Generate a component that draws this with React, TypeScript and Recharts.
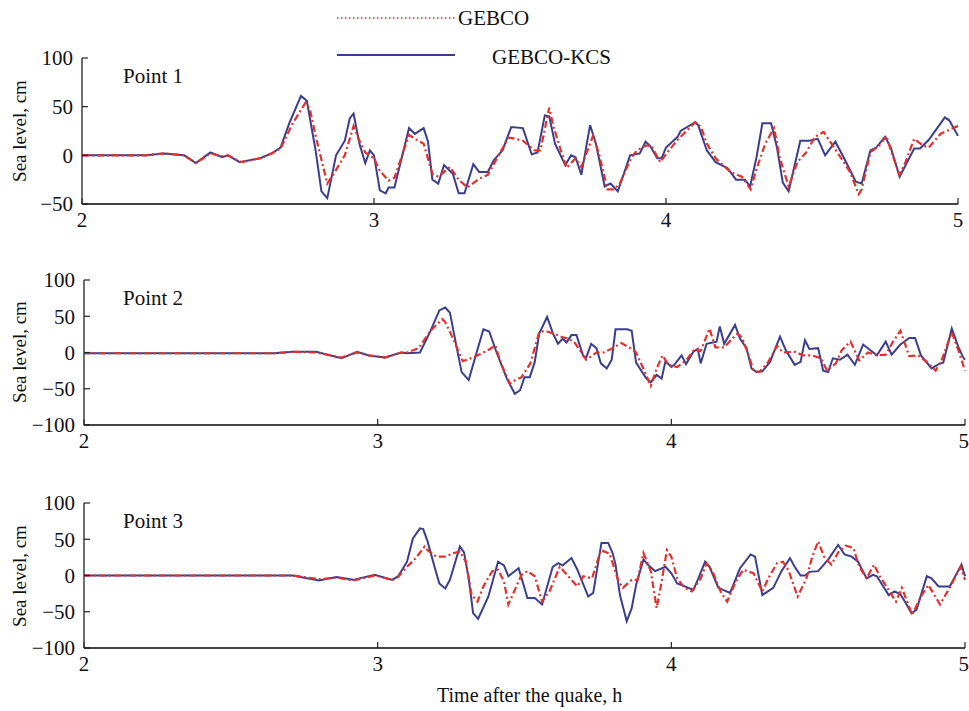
import { LineChart, Line, XAxis, YAxis } from "recharts"

const FONT = '"Liberation Serif", "Times New Roman", serif'
const RED = "#e3302b"
const BLUE = "#3b3e8e"

const X_TICKS = [2, 3, 4, 5]
const Y_TICKS_1 = [-50, 0, 50, 100]
const Y_TICKS_23 = [-100, -50, 0, 50, 100]

// Point 1
const P1_KCS_T = [2.0, 2.22, 2.28, 2.35, 2.39, 2.44, 2.48, 2.5, 2.54, 2.61, 2.65, 2.68, 2.71, 2.75, 2.77, 2.8, 2.82, 2.84, 2.87, 2.9, 2.917, 2.93, 2.95, 2.97, 2.986, 3.0, 3.02, 3.04, 3.05, 3.07, 3.12, 3.14, 3.17, 3.185, 3.2, 3.22, 3.24, 3.27, 3.29, 3.31, 3.34, 3.36, 3.39, 3.41, 3.44, 3.47, 3.51, 3.54, 3.56, 3.585, 3.6, 3.62, 3.655, 3.675, 3.69, 3.71, 3.74, 3.76, 3.79, 3.81, 3.835, 3.877, 3.91, 3.93, 3.945, 3.97, 3.985, 4.0, 4.04, 4.05, 4.1, 4.11, 4.14, 4.17, 4.21, 4.24, 4.27, 4.288, 4.31, 4.33, 4.36, 4.38, 4.4, 4.42, 4.46, 4.49, 4.52, 4.545, 4.58, 4.61, 4.65, 4.67, 4.7, 4.72, 4.75, 4.77, 4.8, 4.85, 4.87, 4.9, 4.955, 4.97, 5.0]
const P1_KCS_V = [0, 0, 2, 0, -8, 3, -2, 0, -7, -3, 2, 8, 33, 61, 56, 5, -37, -44, 0, 15, 38, 43, 12, -8, 5, 0, -36, -39, -33, -33, 28, 22, 28, 14, -25, -29, -10, -19, -39, -39, -9, -17, -17, -5, 5, 29, 28, 1, 3, 41, 40, 12, -10, 0, -2, -20, 31, 12, -32, -29, -37, 0, 2, 14, 10, -3, -3, 8, 19, 25, 34, 31, 5, -7, -13, -25, -25, -32, -2, 33, 33, 8, -28, -37, 15, 15, 17, 0, 14, -3, -27, -29, 5, 8, 19, 8, -22, 7, 7, 16, 39, 36, 20]
const P1_GEB_T = [2.0, 2.22, 2.28, 2.35, 2.39, 2.44, 2.48, 2.5, 2.545, 2.61, 2.65, 2.68, 2.72, 2.765, 2.78, 2.8, 2.84, 2.87, 2.9, 2.93, 2.95, 2.97, 3.0, 3.02, 3.05, 3.07, 3.12, 3.15, 3.17, 3.2, 3.22, 3.26, 3.29, 3.32, 3.36, 3.39, 3.46, 3.47, 3.51, 3.55, 3.57, 3.6, 3.615, 3.64, 3.66, 3.69, 3.71, 3.75, 3.77, 3.8, 3.82, 3.84, 3.88, 3.9, 3.93, 3.95, 3.98, 4.01, 4.04, 4.07, 4.1, 4.12, 4.14, 4.17, 4.22, 4.26, 4.29, 4.31, 4.34, 4.37, 4.39, 4.42, 4.45, 4.48, 4.51, 4.54, 4.56, 4.6, 4.63, 4.66, 4.67, 4.7, 4.73, 4.755, 4.77, 4.8, 4.82, 4.85, 4.88, 4.9, 4.94, 4.99, 5.0]
const P1_GEB_V = [0, 0, 2, 0, -8, 2, -1, 0, -7, -3, 2, 7, 32, 54, 48, 20, -29, -15, 0, 30, 15, 3, -3, -16, -26, -23, 21, 15, 12, -19, -22, -12, -25, -33, -24, -20, 18, 18, 15, 5, 5, 49, 29, 5, -13, -3, -12, 20, 2, -35, -35, -30, -3, 5, 10, 10, -7, 5, 16, 25, 34, 29, 12, -3, -17, -22, -35, -14, 12, 28, -3, -32, -7, 3, 19, 24, 15, -3, -17, -40, -35, 3, 10, 20, 5, -20, -7, 17, 10, 8, 22, 29, 30]

// Point 2
const P2_KCS_T = [2.0, 2.65, 2.71, 2.79, 2.877, 2.93, 2.97, 3.025, 3.08, 3.1, 3.144, 3.178, 3.21, 3.23, 3.246, 3.27, 3.286, 3.31, 3.337, 3.36, 3.38, 3.405, 3.44, 3.467, 3.485, 3.5, 3.518, 3.535, 3.55, 3.577, 3.597, 3.614, 3.63, 3.643, 3.66, 3.677, 3.7, 3.71, 3.727, 3.745, 3.76, 3.78, 3.797, 3.81, 3.85, 3.865, 3.88, 3.915, 3.93, 3.95, 3.967, 3.98, 4.0, 4.01, 4.035, 4.05, 4.075, 4.09, 4.1, 4.12, 4.154, 4.165, 4.18, 4.217, 4.234, 4.256, 4.273, 4.29, 4.31, 4.336, 4.37, 4.39, 4.42, 4.44, 4.455, 4.47, 4.5, 4.517, 4.534, 4.55, 4.574, 4.6, 4.625, 4.653, 4.7, 4.73, 4.75, 4.78, 4.81, 4.83, 4.85, 4.886, 4.915, 4.926, 4.955, 4.977, 4.994, 5.0]
const P2_KCS_V = [-1, -1, 1, 1, -8, 1, -4, -7, 0, -1, 0, 28, 58, 62, 55, 5, -27, -38, 0, 32, 29, 0, -36, -57, -52, -34, -34, -13, 26, 49, 26, 12, 19, 14, 24, 24, -5, -7, 12, 6, -15, -22, -10, 32, 32, 30, -14, -36, -41, -31, -36, -12, -20, -17, -4, -16, 1, 5, -15, 12, 15, 36, 12, 38, 19, 6, -22, -27, -26, -13, 22, 3, -17, -13, 17, 5, 6, -25, -27, -8, -10, -3, -17, 11, -4, 15, -3, 11, 20, 20, -4, -22, -15, -14, 33, 8, -7, -10]
const P2_GEB_T = [2.0, 2.65, 2.71, 2.79, 2.877, 2.93, 2.97, 3.025, 3.08, 3.1, 3.14, 3.18, 3.22, 3.23, 3.25, 3.29, 3.33, 3.38, 3.4, 3.42, 3.45, 3.46, 3.49, 3.52, 3.55, 3.57, 3.6, 3.63, 3.65, 3.67, 3.71, 3.745, 3.77, 3.8, 3.83, 3.86, 3.88, 3.91, 3.93, 3.95, 3.97, 3.99, 4.02, 4.05, 4.08, 4.1, 4.13, 4.15, 4.18, 4.2, 4.225, 4.24, 4.26, 4.28, 4.3, 4.33, 4.36, 4.38, 4.42, 4.45, 4.48, 4.51, 4.53, 4.56, 4.58, 4.61, 4.64, 4.67, 4.7, 4.73, 4.755, 4.78, 4.81, 4.84, 4.87, 4.9, 4.92, 4.955, 4.98, 5.0]
const P2_GEB_V = [-1, -1, 1, 0, -7, 0, -4, -7, 0, 0, 6, 30, 46, 42, 25, -12, -6, 4, 10, -15, -43, -40, -34, -15, 28, 30, 26, 21, 19, 14, -10, 0, 0, 6, 13, 6, 0, -27, -46, -22, -4, -17, -20, -11, 5, 2, 33, 7, 7, 16, 26, 21, 0, -25, -27, -13, 9, 0, 1, -4, -4, -8, -25, -15, 3, 15, -11, 0, -4, -3, 15, 30, -5, -4, -13, -25, -11, 28, 0, -25]

// Point 3
const P3_KCS_T = [2.0, 2.71, 2.8, 2.86, 2.917, 2.99, 3.05, 3.07, 3.1, 3.12, 3.144, 3.155, 3.17, 3.195, 3.21, 3.23, 3.246, 3.28, 3.294, 3.31, 3.325, 3.342, 3.377, 3.41, 3.43, 3.445, 3.48, 3.51, 3.535, 3.56, 3.596, 3.615, 3.63, 3.66, 3.68, 3.717, 3.734, 3.762, 3.785, 3.8, 3.81, 3.825, 3.848, 3.865, 3.88, 3.905, 3.92, 3.945, 3.98, 4.0, 4.02, 4.046, 4.075, 4.09, 4.115, 4.13, 4.16, 4.2, 4.234, 4.27, 4.285, 4.31, 4.347, 4.375, 4.404, 4.42, 4.44, 4.455, 4.47, 4.5, 4.534, 4.568, 4.59, 4.614, 4.636, 4.665, 4.687, 4.7, 4.74, 4.76, 4.78, 4.795, 4.818, 4.835, 4.87, 4.886, 4.91, 4.948, 4.988, 5.0]
const P3_KCS_V = [0, 0, -7, -2, -6, 1, -6, -1, 19, 51, 65, 64, 47, 10, -11, -18, -6, 40, 32, -4, -52, -60, -29, 19, 14, -1, 10, -31, -31, -40, 12, 17, 14, 24, 8, -29, -24, 45, 45, 31, 15, -27, -63, -45, -13, 22, 15, 6, 12, 3, -11, -15, -20, -6, 19, 12, -17, -24, 10, 29, 26, -27, -17, 6, 24, 12, 0, 0, 5, 6, 22, 42, 29, 26, 19, -4, 1, -1, -27, -22, -26, -36, -52, -47, -1, -4, -15, -15, 15, -1]
const P3_GEB_T = [2.0, 2.71, 2.8, 2.86, 2.917, 2.99, 3.05, 3.07, 3.1, 3.13, 3.16, 3.17, 3.2, 3.23, 3.26, 3.28, 3.3, 3.32, 3.34, 3.36, 3.39, 3.41, 3.43, 3.445, 3.47, 3.49, 3.51, 3.535, 3.56, 3.585, 3.62, 3.66, 3.68, 3.7, 3.73, 3.76, 3.79, 3.82, 3.835, 3.865, 3.885, 3.905, 3.93, 3.95, 3.965, 3.985, 4.0, 4.02, 4.045, 4.07, 4.1, 4.12, 4.14, 4.17, 4.19, 4.22, 4.245, 4.28, 4.31, 4.33, 4.36, 4.38, 4.4, 4.43, 4.46, 4.48, 4.5, 4.52, 4.545, 4.57, 4.595, 4.62, 4.64, 4.665, 4.69, 4.71, 4.735, 4.765, 4.785, 4.82, 4.85, 4.875, 4.915, 4.95, 4.985, 5.0]
const P3_GEB_V = [0, 0, -5, -3, -7, 0, -6, -2, 12, 24, 40, 35, 26, 26, 31, 33, 19, -27, -36, -15, 6, 8, -8, -40, -17, 1, 6, -1, -36, -22, 12, -6, -15, -1, -4, 35, 30, -8, -17, -6, -6, 31, 6, -45, -13, 35, 26, -4, -17, -22, -4, 17, 6, -24, -36, -8, 8, 3, -22, -4, 17, 19, 6, -29, -4, 26, 47, 26, 15, 33, 41, 38, 12, -4, 15, -1, -17, -36, -17, -54, -29, -13, -40, -15, 12, -6]

const pairs = (ts: number[], vs: number[]) => ts.map((t, i) => ({ t, v: vs[i] }))
const fmt = (v: number) => (v < 0 ? `\u2212${Math.abs(v)}` : `${v}`)

type PanelProps = {
  top: number
  margin: { top: number; right: number; bottom: number; left: number }
  yDomain: [number, number]
  yTicks: number[]
  kcs: { t: number; v: number }[]
  gebco: { t: number; v: number }[]
}

const tickStyle = { fontSize: 21, fill: "#111", fontFamily: FONT }

function Panel({ top, margin, yDomain, yTicks, kcs, gebco }: PanelProps) {
  return (
    <div style={{ position: "absolute", left: 0, top }}>
      <LineChart width={969} height={200} margin={margin}>
        <XAxis
          dataKey="t"
          type="number"
          domain={[2, 5]}
          ticks={X_TICKS}
          allowDuplicatedCategory={false}
          height={30}
          tickSize={-6}
          tickMargin={14}
          tick={tickStyle}
          stroke="#333"
          axisLine={{ stroke: "#444", strokeWidth: 1.8 }}
          tickLine={{ stroke: "#222", strokeWidth: 1.2 }}
        />
        <YAxis
          dataKey="v"
          type="number"
          domain={yDomain}
          ticks={yTicks}
          width={50}
          tickSize={-6}
          tickMargin={15}
          tick={tickStyle}
          tickFormatter={fmt}
          axisLine={{ stroke: "#333", strokeWidth: 1.4 }}
          tickLine={{ stroke: "#222", strokeWidth: 1.2 }}
        />
        <Line data={kcs} dataKey="v" type="linear" stroke={BLUE} strokeWidth={2} dot={false} isAnimationActive={false} />
        <Line data={gebco} dataKey="v" type="linear" stroke={RED} strokeWidth={2.2} strokeDasharray="7 3 2 3" dot={false} isAnimationActive={false} />
      </LineChart>
    </div>
  )
}

const text = (x: number, y: number, s: string, size = 21) => (
  <div style={{ position: "absolute", left: x, top: y, fontFamily: FONT, fontSize: size, lineHeight: "24px", color: "#111", whiteSpace: "nowrap" }}>
    {s}
  </div>
)

const yLabel = (cy: number) => (
  <div
    style={{
      position: "absolute",
      left: 20 - 90,
      top: cy - 12,
      width: 180,
      height: 24,
      lineHeight: "24px",
      textAlign: "center",
      fontFamily: FONT,
      fontSize: 19,
      color: "#111",
      transform: "rotate(-90deg)",
    }}
  >
    Sea level, cm
  </div>
)

export default function App() {
  return (
    <div style={{ position: "absolute", left: 0, top: 0, width: 969, height: 711, background: "#fff", overflow: "hidden" }}>
      <Panel top={40} margin={{ top: 18, right: 11, bottom: 6, left: 32 }} yDomain={[-50, 100]} yTicks={Y_TICKS_1} kcs={pairs(P1_KCS_T, P1_KCS_V)} gebco={pairs(P1_GEB_T, P1_GEB_V)} />
      <Panel top={260} margin={{ top: 20, right: 4, bottom: 5, left: 34 }} yDomain={[-100, 100]} yTicks={Y_TICKS_23} kcs={pairs(P2_KCS_T, P2_KCS_V)} gebco={pairs(P2_GEB_T, P2_GEB_V)} />
      <Panel top={483} margin={{ top: 20, right: 4, bottom: 5, left: 34 }} yDomain={[-100, 100]} yTicks={Y_TICKS_23} kcs={pairs(P3_KCS_T, P3_KCS_V)} gebco={pairs(P3_GEB_T, P3_GEB_V)} />

      <svg width={969} height={75} style={{ position: "absolute", left: 0, top: 0 }}>
        <line x1={337} y1={18} x2={455} y2={18} stroke={RED} strokeWidth={1.5} strokeDasharray="1.5 2.5" />
        <text x={458} y={25} fontFamily={FONT} fontSize={21} fill="#111">GEBCO</text>
        <line x1={337} y1={55} x2={455} y2={55} stroke={BLUE} strokeWidth={2} />
        <text x={492} y={64} fontFamily={FONT} fontSize={21} fill="#111">GEBCO-KCS</text>
      </svg>

      {text(123, 64, "Point 1")}
      {text(123, 286, "Point 2")}
      {text(123, 509, "Point 3")}
      {yLabel(131)}
      {yLabel(352)}
      {yLabel(576)}
      {text(437, 683, "Time after the quake, h", 20)}
    </div>
  )
}
